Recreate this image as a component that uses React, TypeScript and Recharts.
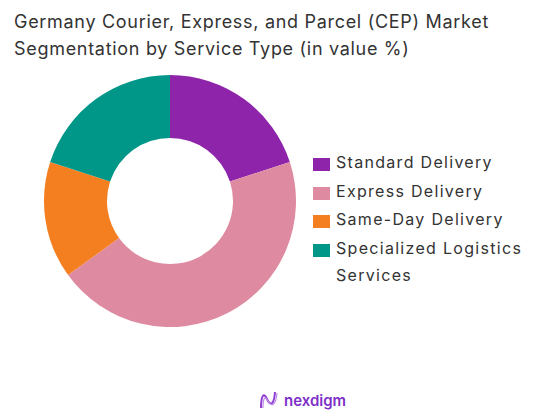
import type { JSX } from "react";

import { Cell, Legend, Pie, PieChart } from "recharts";

const segments = ["Standard Delivery", "Express Delivery", "Same-Day Delivery", "Specialized Logistics Services"];
const shares = [20, 45, 15, 20];
const colors = ["#8E24AA", "#DE8AA0", "#F47F20", "#009688"];

const chartData = segments.map((name, i) => ({ name, value: shares[i] }));

const font = "Inter, 'Noto Sans', sans-serif";

function SegmentLegend(): JSX.Element {
	return (
		<div style={{ color: "#333", fontFamily: font, fontSize: 16, letterSpacing: 1.3 }}>
			{segments.map((name, i) => (
				<div key={name} style={{ alignItems: "flex-start", display: "flex", marginBottom: 6.5 }}>
					<span
						style={{
							background: colors[i],
							display: "inline-block",
							flex: "0 0 auto",
							height: 13,
							marginRight: 6,
							marginTop: 4,
							width: 17,
						}}
					/>
					<span style={{ lineHeight: "27px", marginTop: -5, width: 205 }}>{name}</span>
				</div>
			))}
		</div>
	);
}

export default function App(): JSX.Element {
	return (
		<div style={{ background: "#fff", height: 420, left: 0, position: "fixed", top: 0, width: 548 }}>
			<div
				style={{
					color: "#333",
					fontFamily: font,
					fontSize: 18,
					left: 14,
					letterSpacing: 0.7,
					lineHeight: "27px",
					position: "absolute",
					top: 8,
				}}
			>
				Germany Courier, Express, and Parcel (CEP) Market
				<br />
				Segmentation by Service Type (in value %)
			</div>
			<PieChart height={420} margin={{ bottom: 0, left: 0, right: 0, top: 0 }} width={548}>
				<Pie
					cx={170}
					cy={201}
					data={chartData}
					dataKey="value"
					endAngle={-270}
					innerRadius={63}
					isAnimationActive={false}
					nameKey="name"
					outerRadius={126}
					startAngle={90}
					stroke="none"
				>
					{chartData.map((d, i) => (
						<Cell fill={colors[i]} key={d.name} />
					))}
				</Pie>
				<Legend content={() => <SegmentLegend />} wrapperStyle={{ left: 313, top: 154, width: 232 }} />
			</PieChart>
			<div style={{ alignItems: "center", display: "flex", left: 258, position: "absolute", top: 389 }}>
				<svg height={22} viewBox="0 0 22 22" width={22}>
					<path d="M3 19 C3 6, 6 3, 9 10 C12 17, 16 17, 17 3" fill="none" stroke="#8E3FD0" strokeWidth={2} />
					<path d="M5 19 C5 9, 7 6, 10 12 C13 18, 18 17, 19 4" fill="none" stroke="#C08AE8" strokeWidth={1.2} />
				</svg>
				<span style={{ color: "#7E2FC8", fontFamily: font, fontSize: 15, fontWeight: 600, marginLeft: 4 }}>nexdigm</span>
			</div>
		</div>
	);
}
